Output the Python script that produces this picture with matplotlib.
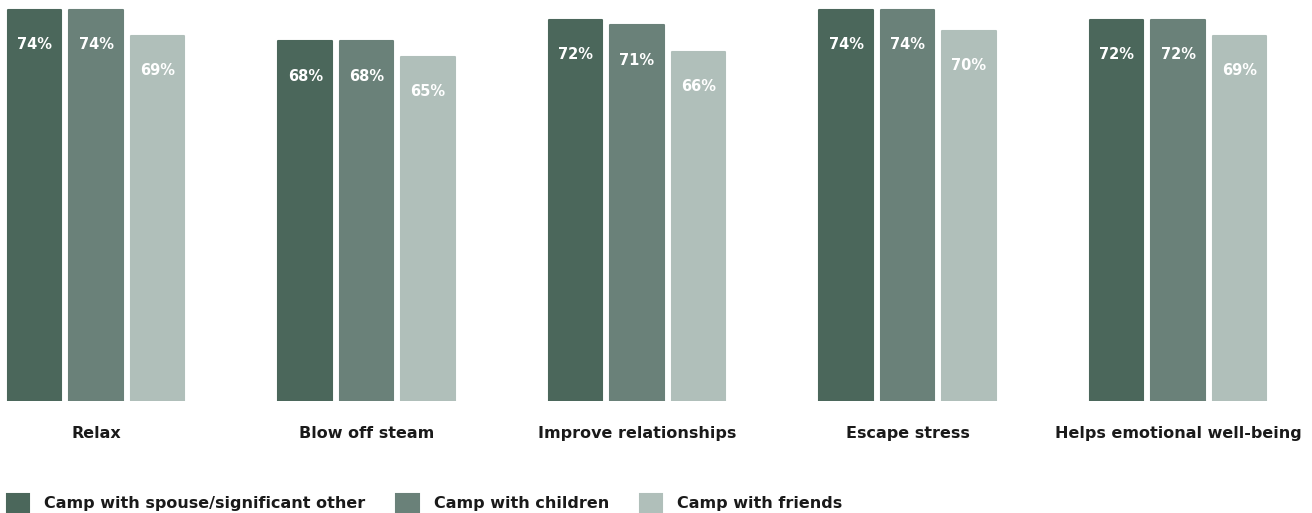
import matplotlib
matplotlib.use("Agg")
import matplotlib.pyplot as plt
from matplotlib.patches import Patch
import numpy as np

categories = ["Relax", "Blow off steam", "Improve relationships", "Escape stress", "Helps emotional well-being"]
series_names = ["Camp with spouse/significant other", "Camp with children", "Camp with friends"]
spouse = [74, 68, 72, 74, 72]
children = [74, 68, 71, 74, 72]
friends = [69, 65, 66, 70, 69]
colors = ["#4b675b", "#6a8179", "#b0bfba"]

plt.rcParams['font.family'] = ['DejaVu Sans']

W, H = 1312, 513
fig = plt.figure(figsize=(W / 100, H / 100), dpi=100)
base_px = 401
ax = fig.add_axes([0, (H - base_px) / H, 1, base_px / H])

unit = 270.5
x = np.arange(len(categories))
bw = 53.5 / unit
off = 61.3 / unit
for k, (vals, col) in enumerate(zip([spouse, children, friends], colors)):
    bars = ax.bar(x + (k - 1) * off, vals, width=bw, color=col, edgecolor=col,
                  linewidth=1.5, joinstyle='round')
    for b, v in zip(bars, vals):
        ax.annotate(f"{v}%", (b.get_x() + b.get_width() / 2, v), xytext=(0, -25),
                    textcoords='offset points', ha='center', va='center',
                    color='white', fontsize=10.5, fontweight='bold')

ax.set_xlim(-96 / unit, (W - 96) / unit)
ax.set_ylim(0, base_px / 5.29)
ax.set_xticks(x)
ax.set_xticklabels(categories, fontsize=11.5, fontweight='bold', color='#1a1a1a')
ax.tick_params(axis='x', length=0, pad=18)
ax.set_yticks([])
for s in ax.spines.values():
    s.set_visible(False)
ax.patch.set_alpha(0)

handles = [Patch(facecolor=c, edgecolor=c, linewidth=1.5, joinstyle='round') for c in colors]
fig.legend(handles, series_names, loc='lower left', bbox_to_anchor=(7 / W, 1 / H),
           ncol=3, frameon=False, borderpad=0, borderaxespad=0,
           handlelength=1.4, handleheight=1.4, handletextpad=0.92, columnspacing=1.95,
           prop={'size': 11.5, 'weight': 'bold'}, labelcolor='#1a1a1a')

fig.savefig("out.png", dpi=100)
